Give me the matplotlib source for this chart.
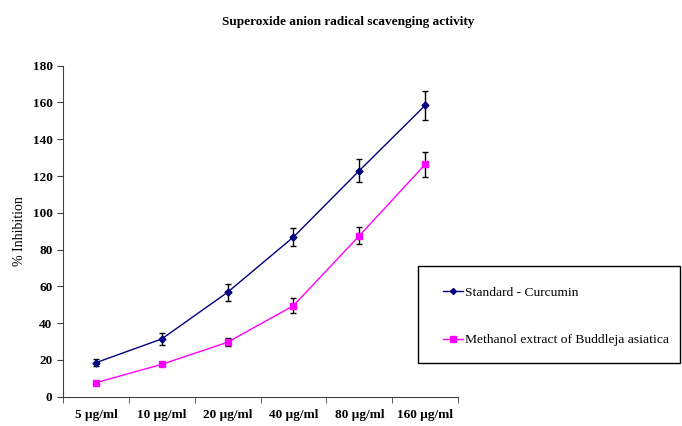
import matplotlib
matplotlib.use("Agg")
import matplotlib.pyplot as plt
from matplotlib.lines import Line2D
from matplotlib.patches import Rectangle
import numpy as np

categories = ["5 µg/ml", "10 µg/ml", "20 µg/ml", "40 µg/ml", "80 µg/ml", "160 µg/ml"]
curcumin = [18.5, 31.4, 56.8, 86.8, 122.9, 158.4]
curcumin_err = [1.8, 3.3, 4.7, 5.0, 6.3, 7.9]
methanol = [7.6, 17.6, 29.6, 49.5, 87.5, 126.3]
methanol_err = [0.5, 0.5, 2.3, 4.0, 4.7, 6.9]
yticks = [0, 20, 40, 60, 80, 100, 120, 140, 160, 180]

plt.rcParams['font.family'] = ['Liberation Serif', 'DejaVu Serif']

fig = plt.figure(figsize=(6.82, 4.26), dpi=100)
ax = fig.add_axes([0.0924, 0.0688, 0.5792, 0.777])

x = np.arange(len(categories))
ax.errorbar(x, curcumin, yerr=curcumin_err, color='#000080', marker='D', markersize=3.5,
            lw=1, ecolor='black', elinewidth=1, capsize=2.5, capthick=1)
ax.errorbar(x, methanol, yerr=methanol_err, color='#FF00FF', marker='s', markersize=5,
            lw=1, ecolor='black', elinewidth=1, capsize=2.5, capthick=1)

ax.set_xlim(-0.5, 5.5)
ax.set_ylim(0, 180)
ax.set_yticks(yticks)
ax.set_yticklabels([str(v) for v in yticks], fontweight='bold', fontsize=9.5)
ax.set_xticks(x)
ax.set_xticklabels(categories, fontweight='bold', fontsize=9.5)
ax.set_xticks(np.arange(-0.5, 6.0, 1.0), minor=True)
ax.tick_params(axis='x', which='major', length=0, pad=9)
ax.tick_params(axis='x', which='minor', length=4, direction='out', color='#404040')
ax.tick_params(axis='y', length=4, direction='out', color='#404040')
for s in ['top', 'right']:
    ax.spines[s].set_visible(False)
for s in ['left', 'bottom']:
    ax.spines[s].set_color('#404040')

ax.set_ylabel('% Inhibition', fontsize=10, labelpad=5)
fig.text(0.510, 0.948, 'Superoxide anion radical scavenging activity', ha='center', va='center',
         fontsize=9.5, fontweight='bold')

fig.patches.append(Rectangle((0.613, 0.148), 0.384, 0.228, transform=fig.transFigure,
                             fill=False, edgecolor='black', lw=1))
handles = [Line2D([], [], color='#000080', marker='D', markersize=3, lw=1),
           Line2D([], [], color='#FF00FF', marker='s', markersize=4.5, lw=1)]
fig.legend(handles=handles, labels=['Standard - Curcumin', 'Methanol extract of Buddleja asiatica'],
           loc='center left', bbox_to_anchor=(0.6496, 0.257), frameon=False, fontsize=9.7,
           labelspacing=2.6, handlelength=1.5, handletextpad=0.15, borderpad=0,
           borderaxespad=0)

fig.savefig('out.png', dpi=100)
